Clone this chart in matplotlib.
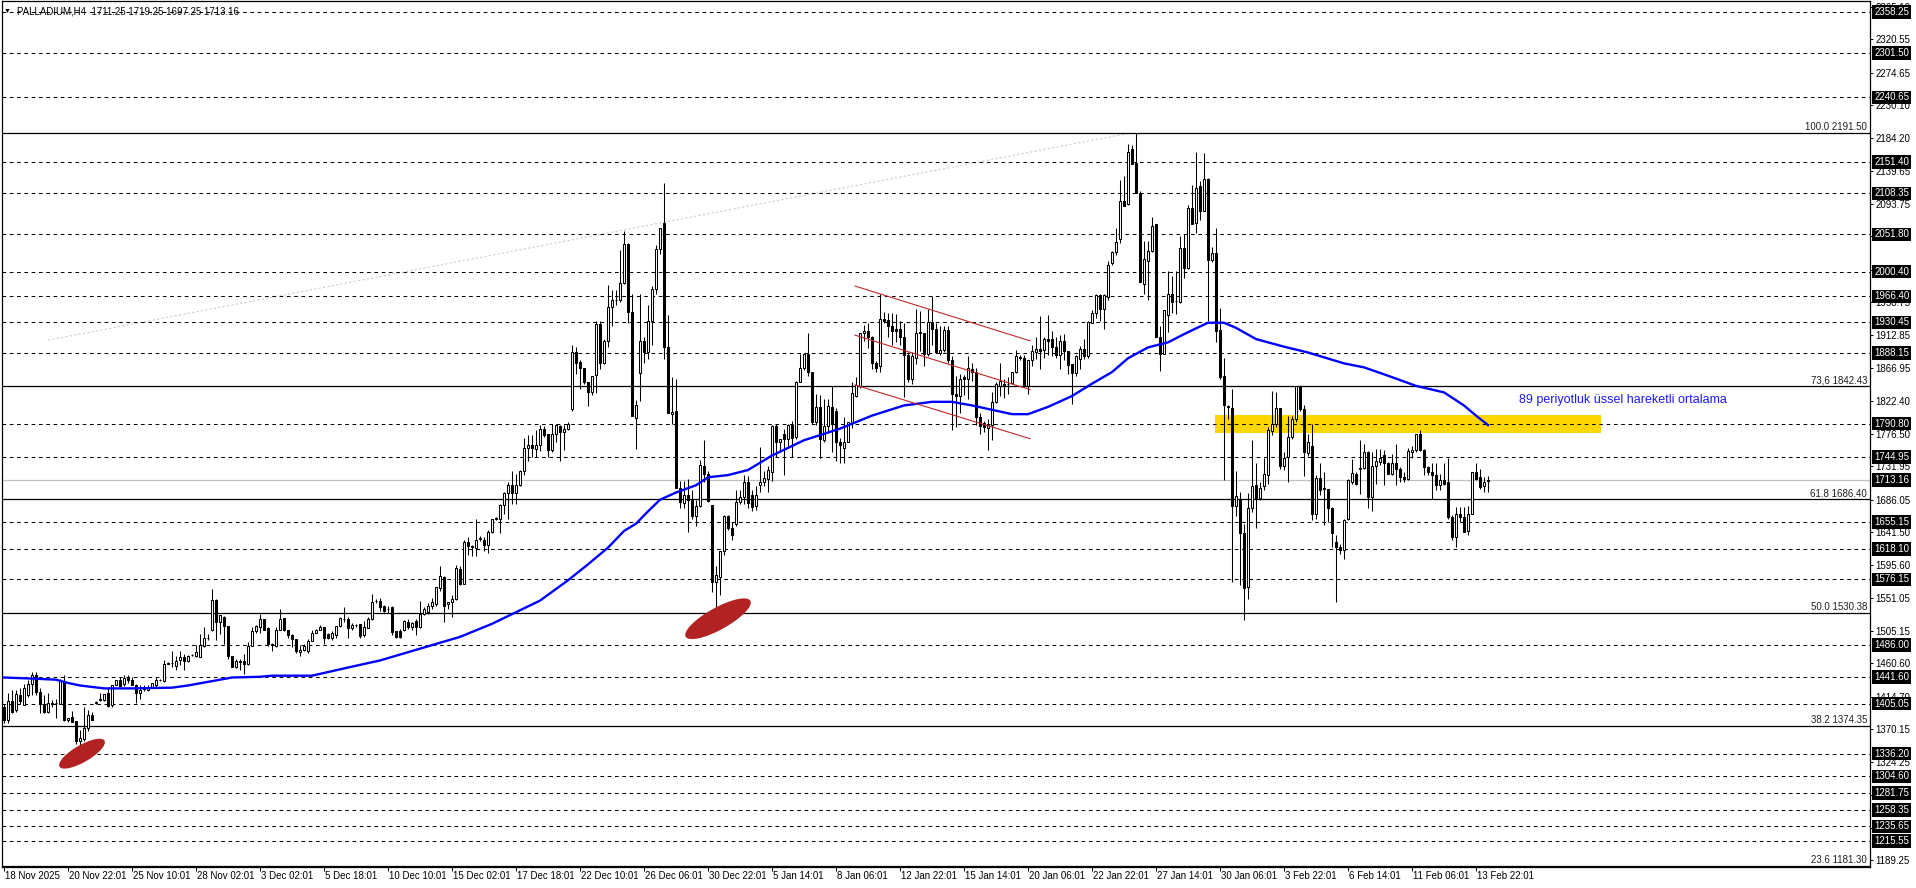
import numpy as np
import matplotlib
matplotlib.use("Agg")
import matplotlib.pyplot as plt
from matplotlib import transforms
from matplotlib.patches import Ellipse, Rectangle

plt.rcParams['font.family'] = ['Liberation Sans', 'DejaVu Sans']

# PALLADIUM H4 candles
opens = [
    1401, 1383, 1408, 1396, 1417, 1403, 1417, 1432, 1444, 1421,
    1405, 1394, 1405, 1406, 1404, 1436, 1382, 1387, 1381, 1353,
    1356, 1371, 1389, 1406, 1410, 1410, 1419, 1403, 1430, 1437,
    1432, 1441, 1437, 1430, 1420, 1425, 1424, 1428, 1431, 1437,
    1436, 1460, 1461, 1457, 1465, 1469, 1464, 1472, 1471, 1469,
    1485, 1495, 1506, 1548, 1518, 1525, 1512, 1470, 1455, 1463,
    1464, 1459, 1485, 1505, 1511, 1521, 1509, 1487, 1484, 1507,
    1523, 1507, 1499, 1494, 1476, 1479, 1478, 1492, 1503, 1507,
    1510, 1501, 1496, 1499, 1512, 1521, 1522, 1509, 1513, 1515,
    1499, 1509, 1521, 1546, 1546, 1539, 1535, 1538, 1505, 1505,
    1507, 1517, 1511, 1519, 1510, 1529, 1531, 1539, 1542, 1565,
    1580, 1543, 1545, 1549, 1591, 1570, 1628, 1621, 1620, 1632,
    1630, 1624, 1642, 1660, 1660, 1679, 1695, 1707, 1695, 1706,
    1725, 1757, 1762, 1756, 1761, 1783, 1776, 1754, 1777, 1788,
    1779, 1784, 1811, 1889, 1876, 1867, 1848, 1834, 1858, 1928,
    1875, 1905, 1952, 1962, 1962, 1985, 2039, 1945, 1799, 1861,
    1905, 1889, 1932, 1977, 2031, 2068, 1897, 1804, 1809, 1702,
    1681, 1693, 1685, 1664, 1677, 1733, 1721, 1679, 1573, 1579,
    1615, 1663, 1647, 1652, 1683, 1690, 1711, 1692, 1678, 1706,
    1710, 1715, 1724, 1788, 1765, 1776, 1770, 1789, 1772, 1849,
    1868, 1887, 1862, 1793, 1814, 1768, 1788, 1814, 1809, 1766,
    1757, 1766, 1793, 1829, 1843, 1916, 1918, 1910, 1874, 1870,
    1935, 1934, 1925, 1921, 1921, 1910, 1885, 1852, 1882, 1916,
    1916, 1887, 1931, 1921, 1888, 1893, 1920, 1878, 1832, 1829,
    1855, 1853, 1866, 1862, 1800, 1792, 1785, 1789, 1821, 1843,
    1844, 1845, 1847, 1862, 1882, 1882, 1843, 1878, 1890, 1894,
    1893, 1907, 1907, 1896, 1886, 1905, 1891, 1873, 1861, 1880,
    1894, 1884, 1930, 1944, 1968, 1949, 1965, 2012, 2027, 2045,
    2098, 2093, 2169, 2150, 2109, 1983, 2015, 2029, 2066, 1911,
    1887, 1940, 1969, 1960, 1958, 2033, 2006, 2088, 2068, 2118,
    2084, 2128, 2017, 2026, 1920, 1857, 1815, 1813, 1677, 1685,
    1640, 1566, 1674, 1706, 1688, 1705, 1720, 1781, 1791, 1812,
    1733, 1745, 1772, 1797, 1843, 1811, 1750, 1760, 1666, 1716,
    1702, 1701, 1674, 1628, 1621, 1617, 1660, 1711, 1722, 1729,
    1730, 1752, 1690, 1733, 1738, 1748, 1736, 1722, 1736, 1729,
    1717, 1715, 1752, 1754, 1777, 1755, 1731, 1724, 1720, 1707,
    1713, 1711, 1662, 1634, 1667, 1662, 1643, 1667, 1724, 1717,
    1705, 1711.25,
]
highs = [
    1405, 1419, 1424, 1424, 1426, 1432, 1437, 1449, 1449, 1426,
    1417, 1419, 1410, 1412, 1439, 1445, 1385, 1395, 1381, 1369,
    1401, 1396, 1394, 1409, 1420, 1418, 1426, 1430, 1438, 1442,
    1445, 1444, 1442, 1432, 1430, 1430, 1430, 1433, 1442, 1439,
    1465, 1462, 1478, 1470, 1478, 1473, 1472, 1474, 1486, 1501,
    1511, 1501, 1563, 1549, 1527, 1526, 1512, 1470, 1467, 1467,
    1474, 1490, 1511, 1513, 1529, 1522, 1510, 1488, 1510, 1535,
    1523, 1507, 1501, 1494, 1486, 1487, 1494, 1506, 1508, 1514,
    1511, 1502, 1505, 1512, 1525, 1538, 1524, 1516, 1515, 1515,
    1519, 1524, 1556, 1549, 1551, 1541, 1540, 1540, 1505, 1508,
    1520, 1521, 1518, 1521, 1546, 1538, 1544, 1551, 1566, 1595,
    1581, 1545, 1555, 1596, 1595, 1630, 1635, 1624, 1659, 1636,
    1634, 1645, 1660, 1662, 1680, 1697, 1711, 1725, 1722, 1727,
    1771, 1775, 1775, 1782, 1789, 1788, 1777, 1790, 1791, 1789,
    1789, 1793, 1899, 1897, 1878, 1868, 1849, 1857, 1932, 1932,
    1907, 1982, 1975, 1975, 2030, 2056, 2040, 1970, 1823, 1970,
    1910, 1954, 1980, 2037, 2060, 2123, 1940, 1855, 1853, 1712,
    1712, 1715, 1700, 1685, 1741, 1769, 1726, 1679, 1595, 1616,
    1665, 1665, 1655, 1699, 1700, 1720, 1719, 1700, 1705, 1759,
    1726, 1733, 1789, 1790, 1770, 1783, 1791, 1795, 1850, 1887,
    1888, 1916, 1862, 1832, 1830, 1825, 1825, 1843, 1813, 1771,
    1800, 1793, 1849, 1855, 1916, 1927, 1930, 1912, 1877, 1969,
    1945, 1944, 1944, 1942, 1933, 1930, 1890, 1890, 1949, 1946,
    1916, 1949, 1967, 1930, 1925, 1925, 1926, 1884, 1857, 1859,
    1858, 1884, 1874, 1868, 1805, 1795, 1797, 1834, 1848, 1875,
    1852, 1855, 1862, 1893, 1885, 1885, 1878, 1900, 1910, 1939,
    1910, 1940, 1919, 1910, 1913, 1914, 1891, 1873, 1885, 1898,
    1908, 1932, 1948, 1969, 1970, 1970, 2015, 2029, 2061, 2127,
    2132, 2177, 2175, 2191.5, 2112, 2043, 2043, 2076, 2066, 1926,
    1948, 2002, 1994, 2001, 2050, 2052, 2092, 2120, 2166, 2125,
    2164, 2130, 2035, 2061, 1950, 1882, 1816, 1838, 1725, 1697,
    1653, 1696, 1768, 1736, 1711, 1743, 1786, 1836, 1835, 1813,
    1752, 1802, 1802, 1843, 1843, 1816, 1777, 1791, 1720, 1736,
    1724, 1701, 1676, 1638, 1625, 1660, 1715, 1742, 1724, 1768,
    1763, 1753, 1752, 1756, 1756, 1754, 1738, 1749, 1763, 1731,
    1724, 1758, 1760, 1777, 1782, 1756, 1733, 1736, 1736, 1722,
    1736, 1743, 1665, 1676, 1676, 1676, 1678, 1724, 1736, 1729,
    1717, 1719.25,
]
lows = [
    1378, 1378, 1392, 1394, 1405, 1403, 1414, 1417, 1417, 1392,
    1392, 1392, 1400, 1385, 1404, 1381, 1380, 1379, 1350, 1341,
    1353, 1367, 1383, 1405, 1409, 1409, 1401, 1401, 1430, 1429,
    1429, 1433, 1430, 1406, 1412, 1423, 1423, 1426, 1426, 1436,
    1435, 1459, 1455, 1451, 1458, 1451, 1462, 1471, 1469, 1469,
    1483, 1493, 1505, 1493, 1501, 1487, 1467, 1455, 1454, 1451,
    1446, 1458, 1484, 1502, 1503, 1506, 1485, 1478, 1483, 1506,
    1505, 1496, 1483, 1475, 1470, 1478, 1475, 1491, 1502, 1506,
    1487, 1494, 1493, 1496, 1511, 1518, 1496, 1507, 1511, 1496,
    1497, 1509, 1520, 1544, 1533, 1531, 1530, 1500, 1495, 1495,
    1505, 1508, 1506, 1500, 1509, 1527, 1528, 1536, 1540, 1560,
    1517, 1535, 1525, 1548, 1568, 1570, 1610, 1609, 1608, 1629,
    1616, 1612, 1640, 1658, 1640, 1667, 1660, 1680, 1680, 1705,
    1720, 1740, 1745, 1745, 1753, 1772, 1745, 1752, 1766, 1740,
    1755, 1782, 1809, 1860, 1839, 1846, 1815, 1830, 1833, 1866,
    1873, 1896, 1925, 1955, 1958, 1984, 1929, 1802, 1756, 1822,
    1875, 1880, 1900, 1970, 2025, 1880, 1805, 1790, 1702, 1675,
    1675, 1641, 1660, 1650, 1676, 1710, 1683, 1559, 1526, 1555,
    1610, 1645, 1630, 1650, 1680, 1680, 1675, 1670, 1672, 1697,
    1705, 1697, 1712, 1745, 1752, 1720, 1760, 1745, 1770, 1848,
    1865, 1857, 1790, 1789, 1743, 1765, 1780, 1752, 1740, 1737,
    1736, 1765, 1785, 1827, 1840, 1905, 1895, 1866, 1862, 1862,
    1930, 1910, 1900, 1903, 1900, 1827, 1848, 1846, 1873, 1891,
    1871, 1884, 1900, 1888, 1885, 1890, 1875, 1782, 1786, 1805,
    1830, 1825, 1850, 1789, 1777, 1780, 1754, 1768, 1820, 1829,
    1826, 1832, 1845, 1861, 1878, 1842, 1832, 1871, 1880, 1866,
    1882, 1885, 1884, 1882, 1866, 1878, 1859, 1818, 1857, 1866,
    1880, 1882, 1930, 1937, 1932, 1921, 1961, 2010, 2024, 2040,
    2091, 2092, 2149, 2109, 1986, 1969, 1962, 2027, 1910, 1863,
    1887, 1917, 1944, 1942, 1957, 1992, 2004, 2066, 2054, 2072,
    2084, 1933, 2014, 1903, 1853, 1713, 1797, 1573, 1663, 1569,
    1520, 1549, 1669, 1647, 1685, 1700, 1708, 1775, 1786, 1729,
    1727, 1710, 1770, 1793, 1809, 1719, 1746, 1658, 1660, 1692,
    1651, 1655, 1621, 1545, 1611, 1605, 1658, 1708, 1706, 1694,
    1729, 1675, 1670, 1708, 1734, 1707, 1721, 1720, 1707, 1710,
    1710, 1713, 1744, 1752, 1753, 1720, 1720, 1687, 1700, 1700,
    1707, 1659, 1630, 1621, 1656, 1642, 1637, 1666, 1713, 1701,
    1697, 1697.25,
]
closes = [
    1383, 1408, 1394, 1418, 1408, 1427, 1432, 1445, 1421, 1405,
    1394, 1406, 1406, 1406, 1436, 1382, 1385, 1380, 1353, 1357,
    1372, 1389, 1383, 1407, 1411, 1418, 1402, 1430, 1438, 1429,
    1441, 1437, 1430, 1420, 1424, 1426, 1427, 1433, 1438, 1437,
    1459, 1461, 1461, 1464, 1469, 1464, 1471, 1472, 1476, 1486,
    1495, 1496, 1548, 1517, 1527, 1512, 1471, 1456, 1464, 1464,
    1459, 1485, 1505, 1512, 1521, 1506, 1487, 1486, 1507, 1521,
    1507, 1499, 1494, 1477, 1479, 1485, 1492, 1503, 1507, 1510,
    1495, 1496, 1503, 1512, 1523, 1522, 1509, 1514, 1513, 1498,
    1510, 1522, 1545, 1547, 1538, 1533, 1536, 1504, 1497, 1497,
    1519, 1510, 1516, 1510, 1528, 1535, 1539, 1545, 1566, 1581,
    1540, 1545, 1549, 1592, 1570, 1628, 1622, 1622, 1631, 1633,
    1623, 1641, 1659, 1661, 1679, 1695, 1706, 1695, 1706, 1725,
    1758, 1762, 1757, 1761, 1784, 1775, 1755, 1777, 1789, 1780,
    1784, 1791, 1889, 1875, 1867, 1848, 1834, 1857, 1928, 1875,
    1905, 1952, 1961, 1962, 1985, 2039, 1945, 1802, 1817, 1905,
    1889, 1932, 1977, 2031, 2060, 1897, 1805, 1807, 1702, 1683,
    1693, 1686, 1664, 1677, 1734, 1721, 1684, 1573, 1582, 1615,
    1663, 1647, 1638, 1683, 1690, 1711, 1681, 1676, 1693, 1710,
    1716, 1727, 1788, 1766, 1770, 1770, 1789, 1771, 1849, 1868,
    1887, 1862, 1793, 1814, 1770, 1788, 1815, 1791, 1766, 1761,
    1765, 1793, 1833, 1844, 1916, 1918, 1910, 1875, 1868, 1935,
    1933, 1926, 1919, 1919, 1910, 1885, 1852, 1884, 1916, 1917,
    1887, 1931, 1921, 1889, 1893, 1920, 1878, 1832, 1829, 1853,
    1852, 1867, 1862, 1800, 1788, 1786, 1789, 1821, 1846, 1850,
    1845, 1846, 1862, 1884, 1883, 1843, 1878, 1891, 1894, 1891,
    1907, 1905, 1896, 1885, 1905, 1891, 1872, 1861, 1884, 1894,
    1884, 1931, 1944, 1968, 1949, 1968, 2010, 2027, 2041, 2098,
    2091, 2166, 2149, 2109, 1986, 2018, 2029, 2064, 1910, 1887,
    1948, 1969, 1959, 1960, 2033, 2006, 2088, 2066, 2116, 2084,
    2128, 2017, 2026, 1919, 1855, 1816, 1814, 1677, 1691, 1640,
    1565, 1674, 1705, 1688, 1702, 1721, 1782, 1791, 1812, 1733,
    1743, 1772, 1797, 1843, 1811, 1752, 1765, 1666, 1716, 1699,
    1701, 1674, 1640, 1621, 1617, 1658, 1713, 1723, 1708, 1730,
    1752, 1690, 1733, 1739, 1743, 1736, 1722, 1736, 1729, 1717,
    1714, 1753, 1755, 1777, 1754, 1731, 1724, 1720, 1707, 1713,
    1708, 1662, 1634, 1667, 1662, 1642, 1667, 1724, 1715, 1703,
    1710, 1713.16,
]

# 89 EMA, read at a number of bars
ma_bars = [0, 7, 13, 16, 19, 25, 32, 42, 46, 51, 57, 64, 67, 77, 81, 87, 94,
           114, 122, 128, 134, 141, 146, 151, 155, 158, 161, 164, 168, 173,
           176, 181, 186, 192, 200, 209, 217, 225, 232, 237, 242, 247, 252,
           256, 261, 267, 272, 277, 281, 286, 291, 296, 301, 305, 308, 313,
           320, 326, 335, 340, 346, 353, 360, 365, 368, 371]
ma_vals = [1441, 1439.5, 1438, 1433.5, 1430, 1426, 1426, 1427, 1430, 1435,
           1441, 1442, 1443.5, 1443.5, 1448.5, 1456, 1464.5,
           1497, 1515, 1531, 1547, 1575, 1597, 1620, 1643, 1653, 1670, 1686,
           1696, 1706, 1717, 1720, 1727, 1747, 1768, 1784, 1802, 1816, 1821,
           1821, 1816, 1810, 1804, 1804, 1814, 1829, 1846, 1862, 1881, 1896,
           1903, 1917, 1930, 1930, 1923, 1907.5, 1897, 1889, 1874, 1868.5,
           1857, 1843, 1834, 1816, 1802, 1789]

fib_levels = [2191.50, 1842.43, 1686.40, 1530.38, 1374.35, 1181.30]
fib_names = ["100.0", "73,6", "61.8", "50.0", "38.2", "23.6"]

dash_levels = [2358.25, 2301.50, 2240.65, 2151.40, 2108.35, 2051.80, 2000.40,
               1966.40, 1930.45, 1888.15, 1790.80, 1744.95, 1655.15, 1618.10,
               1576.15, 1486.00, 1441.60, 1405.05, 1336.20, 1304.60, 1281.75,
               1258.35, 1235.65, 1215.55]
bid = 1713.16

axis_ticks = [2365.10, 2320.55, 2274.65, 2230.10, 2184.20, 2139.65, 2093.75,
              2049.20, 2003.30, 1958.75, 1912.85, 1866.95, 1822.40, 1776.50,
              1731.95, 1686.05, 1641.50, 1595.60, 1551.05, 1505.15, 1460.60,
              1414.70, 1370.15, 1324.25, 1279.70, 1233.80, 1189.25]

date_labels = ["18 Nov 2025", "20 Nov 22:01", "25 Nov 10:01", "28 Nov 02:01",
               "3 Dec 02:01", "5 Dec 18:01", "10 Dec 10:01", "15 Dec 02:01",
               "17 Dec 18:01", "22 Dec 10:01", "26 Dec 06:01", "30 Dec 22:01",
               "5 Jan 14:01", "8 Jan 06:01", "12 Jan 22:01", "15 Jan 14:01",
               "20 Jan 06:01", "22 Jan 22:01", "27 Jan 14:01", "30 Jan 06:01",
               "3 Feb 22:01", "6 Feb 14:01", "11 Feb 06:01", "13 Feb 22:01"]

# channel lines (bar, price)
chan_x = [212.75, 256.5]
chan_top = [1980.6, 1905.1]
chan_mid = [1912.9, 1837.9]
chan_bot = [1844.3, 1770.2]

fig = plt.figure(figsize=(19.16, 8.88), dpi=100)
ax = fig.add_axes([2 / 1916, 21 / 888, 1868 / 1916, 866 / 888])
ax.set_xlim(-0.5, 466.5)
ax.set_ylim(1179.8, 2373.5)

o = np.array(opens, dtype=float)
h = np.array(highs, dtype=float)
l = np.array(lows, dtype=float)
c = np.array(closes, dtype=float)
x = np.arange(len(o))
up = c >= o

# horizontal levels
for lv in dash_levels:
    ax.axhline(lv, color="black", lw=0.75, ls=(0, (3.5, 3.5)), zorder=1.5)
ax.axhline(bid, color="#c0c0c0", lw=0.9, zorder=1.5)
for lv, nm in zip(fib_levels, fib_names):
    ax.axhline(lv, color="black", lw=0.9, zorder=1.6)
    ax.text(0.9985, lv + 1.2, f"{nm} {lv:.2f}", transform=ax.get_yaxis_transform(),
            ha="right", va="bottom", fontsize=7, color="#202020")

# fib diagonal
ax.plot([11, 281.5], [1906, 2191.5], color="#cccccc", lw=0.8, ls=(0, (2, 2)), zorder=1.4)

# supply zone
ax.add_patch(Rectangle((302.75, 1778), 96.5, 25, facecolor="#ffd700",
                       edgecolor="none", zorder=1.2))

# candles
ax.vlines(x, l, h, color="black", lw=0.75, zorder=3)
ax.bar(x[up], (c - o)[up], bottom=o[up], width=0.5, facecolor="white",
       edgecolor="black", linewidth=0.75, zorder=4)
ax.bar(x[~up], (o - c)[~up], bottom=c[~up], width=0.5, facecolor="black",
       edgecolor="black", linewidth=0.75, zorder=4)

# EMA
ax.plot(ma_bars, ma_vals, color="#0000ff", lw=1.7, zorder=5)

# channel
for yy in (chan_top, chan_mid, chan_bot):
    ax.plot(chan_x, yy, color="#c0282d", lw=0.8, zorder=5)

ax.text(378.75, 1823.6, "89 periyotluk üssel hareketli ortalama", color="#1a1aff",
        fontsize=9, va="center", ha="left")

# red ellipses, sized in pixels
def blob(bar, price, w, hgt, ang):
    tr = fig.dpi_scale_trans + transforms.ScaledTranslation(bar, price, ax.transData)
    ax.add_patch(Ellipse((0, 0), w / 100, hgt / 100, angle=ang, transform=tr,
                         facecolor="#b22222", edgecolor="none", zorder=6))

blob(19.5, 1336, 52, 17, 30)
blob(178.5, 1522, 74, 22, 29)

# right price axis
ax.yaxis.tick_right()
ax.set_yticks(axis_ticks)
ax.set_yticklabels([f"{t:.2f}" for t in axis_ticks])
ax.tick_params(axis="y", length=2.5, width=0.7, pad=1.5, labelsize=7, direction="out")
for lv in dash_levels + [bid]:
    ax.text(1.0022, lv, f"{lv:.2f}", transform=ax.get_yaxis_transform(),
            ha="left", va="center", fontsize=7, color="white", zorder=10,
            clip_on=False,
            bbox=dict(boxstyle="square,pad=0.18", fc="black", ec="none"))

# time axis
ticks = [16 * i for i in range(len(date_labels))]
ax.set_xticks(ticks)
ax.set_xticklabels([])
ax.tick_params(axis="x", length=3, width=0.7, direction="out")
for t, lab in zip(ticks, date_labels):
    ax.text(t + 0.3, -0.005, lab, transform=ax.get_xaxis_transform(),
            ha="left", va="top", fontsize=7)

for s in ax.spines.values():
    s.set_linewidth(0.9)

fig.text(4 / 1916, 1 - 11 / 888, "▼", fontsize=5, va="center", ha="left")
fig.text(17 / 1916, 1 - 11 / 888, "PALLADIUM,H4  1711.25 1719.25 1697.25 1713.16",
         fontsize=7, va="center", ha="left")

fig.savefig("out.png", dpi=100, facecolor="white")
